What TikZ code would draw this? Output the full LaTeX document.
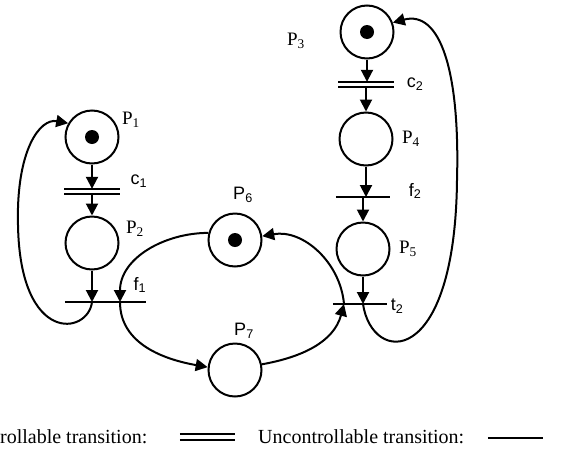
\documentclass[tikz,border=0pt]{standalone}
\usepackage{fontspec}
\setmainfont{Liberation Serif}
\setsansfont{Liberation Sans}
\usetikzlibrary{arrows.meta}
\begin{document}
\begin{tikzpicture}[x=1pt,y=-1pt,
  place/.style={circle, draw, line width=2pt, minimum size=53pt, inner sep=0pt},
  token/.style={place, path picture={\fill (path picture bounding box.center) circle (7pt);}},
  trans/.style={rectangle, inner sep=0pt, minimum height=5pt, draw=none},
  strans/.style={rectangle, inner sep=0pt, minimum height=0pt, draw=none},
  tline/.style={line width=1.8pt},
  sline/.style={line width=2.2pt},
  arc/.style={line width=2pt, -{Triangle[length=12pt,width=12pt]}},
  slab/.style={font=\fontsize{19}{22}\selectfont, inner sep=0pt},
  alab/.style={font=\sffamily\fontsize{18}{20}\selectfont, inner sep=0pt},
  leg/.style={font=\fontsize{20}{22}\selectfont, inner sep=0pt}
]
\useasboundingbox (0,0) rectangle (561,450);
\clip (0,0) rectangle (561,450);
% places
\node[token] (P1) at (92,137) {};
\node[place] (P2) at (92,243) {};
\node[token] (P3) at (367,32) {};
\node[place] (P4) at (366,139) {};
\node[place] (P5) at (363,249) {};
\node[token] (P6) at (235,240) {};
\node[place] (P7) at (235,370) {};
% transitions
\node[trans, minimum width=55pt] (c1) at (92,191.5) {};
\node[trans, minimum width=55pt] (c2) at (366,84.5) {};
\node[strans, minimum width=81pt] (f1) at (105.5,302) {};
\node[strans, minimum width=54pt] (f2) at (363,197) {};
\node[strans, minimum width=54pt] (t2) at (360,304) {};
\draw[tline] (c1.north west) -- (c1.north east);
\draw[tline] (c1.south west) -- (c1.south east);
\draw[tline] (c2.north west) -- (c2.north east);
\draw[tline] (c2.south west) -- (c2.south east);
\draw[sline] (f1.west) -- (f1.east);
\draw[sline] (f2.west) -- (f2.east);
\draw[sline] (t2.west) -- (t2.east);
\coordinate (f1a) at (92,302);
\coordinate (f1b) at (120,302);
\coordinate (t2a) at (344,304);
\coordinate (t2b) at (363,304);
\coordinate (loopL) at (18,225);
\coordinate (loopR) at (457,180);
% labels
\node[slab] (lP1) at (131,120) {P\textsubscript{1}};
\node[slab] (lP2) at (135,229) {P\textsubscript{2}};
\node[slab] (lP3) at (296,41) {P\textsubscript{3}};
\node[slab] (lP4) at (411,139) {P\textsubscript{4}};
\node[slab] (lP5) at (408,249) {P\textsubscript{5}};
\node[alab] (lP6) at (243,195) {P\textsubscript{6}};
\node[alab] (lP7) at (244,331) {P\textsubscript{7}};
\node[alab] (lc1) at (139,181) {c\textsubscript{1}};
\node[alab] (lc2) at (415,84) {c\textsubscript{2}};
\node[alab] (lf1) at (140,285) {f\textsubscript{1}};
\node[alab] (lf2) at (415,191) {f\textsubscript{2}};
\node[alab] (lt2) at (397,306) {t\textsubscript{2}};
% arcs
\draw[arc] (P1.south) -- (c1.north);
\draw[arc] (c1.south) -- (P2.north);
\draw[arc] (P2.south) -- (f1a);
\draw[arc] (P3.south) -- (P3.south |- c2.north);
\draw[arc] (c2.south -| P4.north) -- (P4.north);
\draw[arc] (P4.south) -- (P4.south |- f2);
\draw[arc] (P5.north |- f2) -- (P5.north);
\draw[arc] (P5.south) -- (t2b);
\draw[arc] (P6.165) to[out=180,in=90] (f1b);
\draw[arc] (f1b) to[out=-90,in=170] (P7.174);
\draw[arc] (P7.12) to[out=10,in=255] (t2a);
\draw[arc] (t2a) to[out=95,in=10] (P6.8);
\draw[arc] (f1a) .. controls (88,335) and (20,345) .. (loopL)
  .. controls (16,150) and (40,118) .. (P1.150);
\draw[arc] (t2b) .. controls (372,365) and (455,370) .. (loopR)
  .. controls (460,70) and (440,10) .. (P3.20);
% legend
\node[leg, anchor=base east] (lg1) at (147.5,443) {Controllable transition:};
\node[trans, minimum width=55pt] (lgc) at (207.5,437) {};
\draw[tline] (lgc.north west) -- (lgc.north east);
\draw[tline] (lgc.south west) -- (lgc.south east);
\node[leg, anchor=base west] (lg2) at (258,443) {Uncontrollable transition:};
\node[strans, minimum width=55pt] (lgu) at (515.5,438) {};
\draw[sline] (lgu.west) -- (lgu.east);
\end{tikzpicture}
\end{document}
